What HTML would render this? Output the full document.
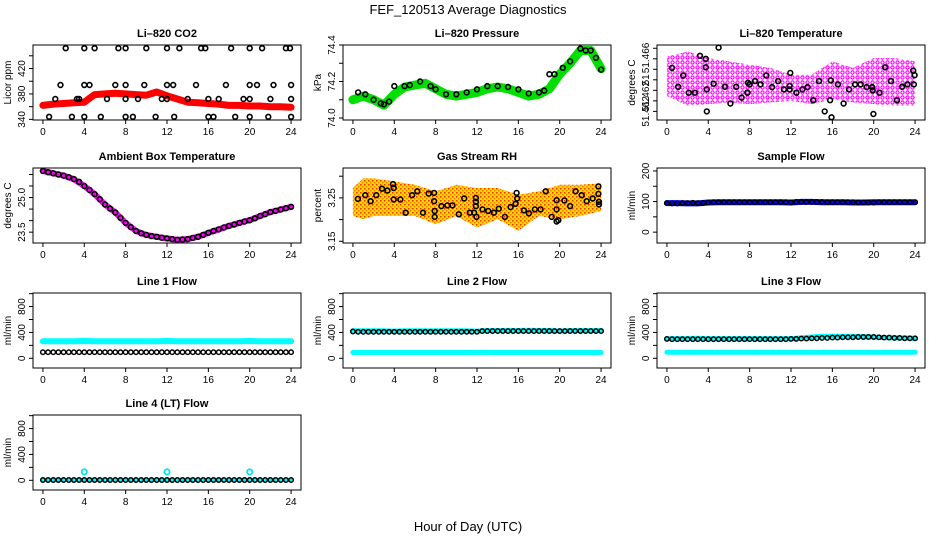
<!DOCTYPE html>
<html><head><meta charset="utf-8">
<style>
html,body{margin:0;padding:0;background:#fff;}
svg{display:block;font-family:"Liberation Sans",sans-serif;}
</style></head>
<body>
<svg id="chart" width="936" height="540" viewBox="0 0 936 540">
<defs>
<pattern id="magPat" width="5" height="5" patternUnits="userSpaceOnUse"><rect width="5" height="5" fill="#ffffff"/><circle cx="2.5" cy="2.5" r="1.6" fill="none" stroke="#ff00ff" stroke-width="1.2"/></pattern>
<pattern id="rhPat" width="4" height="4" patternUnits="userSpaceOnUse"><rect width="4" height="4" fill="#ffd800"/><rect x="0" y="0" width="1.5" height="1.5" fill="#f03000"/><rect x="2" y="2" width="1.5" height="1.5" fill="#f08000"/></pattern>
</defs>
<text x="468" y="14" text-anchor="middle" font-size="13">FEF_120513  Average Diagnostics</text>
<text x="468" y="531" text-anchor="middle" font-size="13">Hour of Day (UTC)</text>
</svg>
<script>
// ---------- data ----------
const xTicks = [0,4,8,12,16,20,24];
// CO2
const co2RedVals = [362,364,365,366,367,379,380,381,380,379,378,383,377,372,367,366,365,364,362,362,361,361,360,360,359];
const co2BlackHours = [2.2,4,5,7.3,8,10,12,13.2,15.3,15.7,18.2,20,21.2,23.5,23.9, 1.7,4,4.5,7,8,9.8,12,12.6,14.8,17.7,20,20.7,22.3,24, 1.2,3.3,3.5,6.2,8,9.2,11.5,12,14,16,17,19.4,20,22,24, 0.6,2.8,4,5.6,8,8.7,10.9,12.7,16,16.5,18.6,20,21.8,24];
const co2BlackVals = [452,452,452,452,452,452,452,452,452,452,452,452,452,452,452, 394,394,394,394,394,394,394,394,394,394,394,394,394,394, 372,372,372,372,372,372,372,372,372,372,372,372,372,372,372, 344,344,344,344,344,344,344,344,344,344,344,344,344,344];
// Pressure
const presGreenVals = [74.10,74.12,74.10,74.07,74.13,74.17,74.18,74.19,74.16,74.13,74.12,74.13,74.14,74.16,74.17,74.16,74.14,74.12,74.13,74.16,74.24,74.30,74.37,74.37,74.27];
const presBlackHours = [0.5,1.2,2,2.7,3,3.5,4,5,5.5,6.5,7.5,8,9,10,11,12,13,14,15,16,17,18,18.5,19,19.5,20.3,21,22,22.5,23,23.5,24];
const presBlackVals = [74.14,74.13,74.10,74.08,74.075,74.09,74.175,74.175,74.18,74.20,74.175,74.157,74.13,74.13,74.14,74.157,74.175,74.175,74.17,74.157,74.135,74.14,74.15,74.24,74.24,74.275,74.31,74.38,74.37,74.37,74.33,74.265];
// Li-820 temperature
const tempCloudHours = [0,2,4,6,8,10,12,14,16,18,20,22,24];
const tempCloudHi = [51.46722,51.46769,51.46706,51.46675,51.46644,51.46613,51.46550,51.46550,51.46675,51.46613,51.46706,51.46706,51.46675];
const tempCloudLo = [51.46347,51.46253,51.46269,51.46284,51.46269,51.46284,51.46300,51.46269,51.46316,51.46284,51.46269,51.46253,51.46253];
const tempBlackHours = [0.49,1.08,1.57,2.12,2.71,3.2,3.76,3.76,3.86,3.86,4.51,5.0,5.62,6.14,6.7,7.22,7.78,7.84,8.0,8.53,9.05,9.61,10.16,10.75,11.31,11.86,11.86,11.93,12.52,13.1,13.6,14.15,14.71,15.26,15.78,15.85,15.92,16.54,17.09,17.61,18.2,18.73,19.31,19.84,19.9,19.97,20.56,21.11,21.67,22.25,22.75,23.27,23.82,23.89,23.95];
const tempBlackVals = [51.46613,51.46434,51.46541,51.46378,51.46378,51.46728,51.46700,51.46619,51.46409,51.46200,51.46463,51.46806,51.46434,51.46275,51.46434,51.46331,51.46378,51.46472,51.46456,51.46488,51.46456,51.46541,51.46431,51.46488,51.46409,51.46441,51.46409,51.46566,51.46378,51.46409,51.46431,51.46306,51.46488,51.46200,51.46306,51.46494,51.46144,51.46456,51.46275,51.46409,51.46456,51.46456,51.46431,51.46431,51.46400,51.46175,51.46378,51.46619,51.46488,51.46306,51.46434,51.46456,51.46588,51.46456,51.46544];
const tempTickVals = [51.462,51.463,51.464,51.465,51.466,51.467,51.468];
const tempLabelVals = [51.462,51.46343,51.465,51.46708];
const tempLabelText = ["51.462","51.462","51","51.466"];
// Ambient box temperature
const ambMagVals = [26.15,26.05,25.95,25.8,25.5,25.15,24.7,24.35,23.9,23.55,23.38,23.3,23.23,23.17,23.2,23.3,23.47,23.62,23.77,23.9,24.02,24.2,24.37,24.48,24.6];
const ambBlackVals = [26.15,26.1,26.05,26.0,25.95,25.88,25.8,25.68,25.5,25.33,25.15,24.93,24.7,24.52,24.35,24.12,23.9,23.72,23.55,23.45,23.38,23.33,23.3,23.26,23.23,23.2,23.17,23.18,23.2,23.25,23.3,23.38,23.47,23.55,23.62,23.7,23.77,23.83,23.9,23.96,24.02,24.1,24.2,24.28,24.37,24.42,24.48,24.54,24.6];
// Gas stream RH
const rhCloudHours = [0,1,2,4,6,8,10,12,14,16,18,20,22,24];
const rhCloudHi = [3.2727,3.2955,3.2955,3.2879,3.2803,3.2652,3.2803,3.2727,3.2727,3.2576,3.2652,3.2803,3.2803,3.2841];
const rhCloudLo = [3.2083,3.2008,3.2083,3.2083,3.2083,3.1894,3.2083,3.1818,3.2008,3.1742,3.2083,3.2008,3.2083,3.2197];
const rhBlackHours = [0.48,1.2,1.71,2.26,2.81,3.33,3.88,3.94,3.94,4.59,5.1,5.72,6.23,6.78,7.33,7.85,7.85,7.91,7.91,8.56,9.14,9.63,10.24,10.76,11.3,11.72,11.89,11.89,11.89,11.95,12.53,13.08,13.63,14.11,14.7,15.25,15.73,15.83,15.89,16.54,17.02,17.6,18.15,18.64,19.22,19.7,19.7,19.7,19.86,20.45,21.0,21.54,22.13,22.61,23.19,23.74,23.74,23.8,23.8];
const rhBlackVals = [3.2477,3.2561,3.2424,3.2561,3.2712,3.2667,3.2818,3.2727,3.2462,3.2462,3.2159,3.2561,3.2652,3.2159,3.2598,3.2614,3.2424,3.2061,3.2197,3.2311,3.2326,3.2326,3.2121,3.2485,3.2159,3.2159,3.25,3.2409,3.2311,3.2061,3.2235,3.2197,3.2159,3.225,3.2061,3.2288,3.2364,3.2614,3.2485,3.2212,3.2144,3.2235,3.2235,3.2652,3.2061,3.2447,3.2235,3.1955,3.1985,3.2439,3.2311,3.2652,3.2561,3.2424,3.2485,3.2765,3.2591,3.2409,3.2348];
// Sample flow
const sampleBlueVals = [95,95,94,94,97,98,98,98,98,98,98,98,97,99,99,98,98,98,97,97,98,98,98,98,98];
const sampleBlackVals = [95,94,94,95,95,96,95,95,97,98,98,98,98,98,98,98,98,98,98,98,98,98,98,98,97,99,99,99,99,99,99,98,98,98,98,98,98,97,97,97,97,98,98,98,98,98,98,98,98];
// Line 1
const l1CyanVals = [265,265,265,265,268,265,265,265,265,265,265,265,268,265,265,265,265,265,265,265,268,265,265,265,265];
const l1BlackVals = [95,95,95,95,95,95,95,95,95,95,95,95,95,95,95,95,95,95,95,95,95,95,95,95,95,95,95,95,95,95,95,95,95,95,95,95,95,95,95,95,95,95,95,95,95,95,95,95,95];
// Line 2
const l2CyanHiVals = [425,425,425,425,420,425,425,425,425,425,425,425,420,430,430,430,430,435,430,430,420,430,430,430,430];
const l2CyanLoVals = [90,90,90,90,90,90,90,90,90,90,90,90,92,92,90,90,90,90,90,90,90,90,90,90,90];
const l2BlackVals = [415,410,410,410,410,410,410,410,410,410,410,410,410,410,410,410,410,410,410,410,410,410,410,410,410,420,420,420,420,420,420,420,420,420,420,420,420,420,420,420,420,420,420,420,420,420,420,420,420];
// Line 3
const l3CyanHiVals = [305,305,305,310,305,305,305,305,305,305,305,305,305,315,330,340,340,340,340,335,330,320,315,315,310];
const l3CyanLoVals = [95,95,95,95,95,95,95,95,95,95,95,95,95,95,95,95,95,95,95,95,95,95,95,95,95];
const l3BlackVals = [300,295,295,295,295,295,295,295,295,295,295,295,295,295,295,295,295,295,295,295,295,295,295,295,300,300,305,305,310,310,315,315,320,320,325,325,325,330,330,330,330,325,320,320,315,315,310,310,310];
// Line 4
const l4CyanVals = [5,5,5,5,5,5,5,5,5,5,5,5,5,5,5,5,5,5,5,5,5,5,5,5,5];
const l4SpikeHours = [4,12,20];
const l4SpikeVals = [130,130,130];
const l4BlackVals = [5,5,5,5,5,5,5,5,5,5,5,5,5,5,5,5,5,5,5,5,5,5,5,5,5,5,5,5,5,5,5,5,5,5,5,5,5,5,5,5,5,5,5,5,5,5,5,5,5];

const hoursHourly = []; for (let i=0;i<=24;i++) hoursHourly.push(i);
const hoursHalf = []; for (let i=0;i<=48;i++) hoursHalf.push(i/2);

// ---------- drawing ----------
const NS = "http://www.w3.org/2000/svg";
const svg = document.getElementById('chart');
const colL = [33,343,657], rowT = [45,168,293,415], PW = 268, PH = 75;

function mk(tag, attrs, parent){
  const e = document.createElementNS(NS, tag);
  for (const k in attrs) e.setAttribute(k, attrs[k]);
  parent.appendChild(e);
  return e;
}

function panel(cfg){
  const L = colL[cfg.col], T = rowT[cfg.row];
  const g = mk('g', {}, svg);
  
  
  const xs = h => L + (h + 0.96) / 25.92 * PW;
  const ys = v => T + (cfg.ymax - v) / (cfg.ymax - cfg.ymin) * PH;
  const box = mk('rect', {x:L, y:T, width:PW, height:PH, fill:'none', stroke:'#000', 'stroke-width':1}, g);
  
  
  const t = mk('text', {x:L+PW/2, y:T-8, 'text-anchor':'middle', 'font-size':11, 'font-weight':'bold'}, g);
  t.textContent = cfg.title;
  
  
  const xa = mk('g', {}, g);
  
  
  xTicks.forEach(h => {
    mk('line', {x1:xs(h), x2:xs(h), y1:T+PH, y2:T+PH+4, stroke:'#000'}, xa);
    const lb = mk('text', {x:xs(h), y:T+PH+15, 'text-anchor':'middle', 'font-size':10}, xa);
    lb.textContent = h;
    
    
  });
  const ya = mk('g', {}, g);
  
  
  cfg.yticks.forEach(v => {
    mk('line', {x1:L-4, x2:L, y1:ys(v), y2:ys(v), stroke:'#000'}, ya);
  });
  cfg.ylabVals.forEach((v,i) => {
    const yy = ys(v);
    const lb = mk('text', {x:L-8, y:yy, transform:`rotate(-90 ${L-8} ${yy})`, 'text-anchor':'middle', 'font-size':10}, ya);
    lb.textContent = cfg.ylabText[i];
    
    
  });
  const yt = mk('text', {x:L-22, y:T+PH/2, transform:`rotate(-90 ${L-22} ${T+PH/2})`, 'text-anchor':'middle', 'font-size':10}, g);
  yt.textContent = cfg.ylab;
  
  
  const plot = mk('g', {}, g);
  
  
  return {xs, ys, g:plot};
}

function band(P, hours, vals, color, width, name){
  const pts = hours.map((h,i) => P.xs(h).toFixed(1) + ',' + P.ys(vals[i]).toFixed(1)).join(' ');
  const pl = mk('polyline', {points:pts, fill:'none', stroke:color, 'stroke-width':width, 'stroke-linejoin':'round', 'stroke-linecap':'round'}, P.g);
  
  
}
function cloud(P, hours, lo, hi, fill, name){
  const up = hours.map((h,i) => P.xs(h).toFixed(1) + ',' + P.ys(hi[i]).toFixed(1));
  const dn = hours.map((h,i) => P.xs(h).toFixed(1) + ',' + P.ys(lo[i]).toFixed(1)).reverse();
  const pg = mk('polygon', {points:up.concat(dn).join(' '), fill:fill, stroke:'none'}, P.g);
  
  
}
function circles(P, hours, vals, color, name, r, sw){
  const gg = mk('g', {}, P.g);
  
  
  hours.forEach((h,i) => {
    const c = mk('circle', {cx:P.xs(h).toFixed(1), cy:P.ys(vals[i]).toFixed(1), r:r||2.4, fill:'none', stroke:color, 'stroke-width':sw||1.6}, gg);
    
    
  });
}

let P = panel({name:'co2', col:0, row:0, title:'Li\u2013820 CO2', ylab:'Licor ppm', ymin:339, ymax:457,
  yticks:[340,360,380,400,420,440], ylabVals:[340,380,420], ylabText:['340','380','420']});
band(P, hoursHourly, co2RedVals, '#ff0000', 7, 'co2-red-series');
circles(P, co2BlackHours, co2BlackVals, '#000', 'co2-black-series');

P = panel({name:'pressure', col:1, row:0, title:'Li\u2013820 Pressure', ylab:'kPa', ymin:73.989, ymax:74.40,
  yticks:[74.0,74.1,74.2,74.3,74.4], ylabVals:[74.0,74.2,74.4], ylabText:['74.0','74.2','74.4']});
band(P, hoursHourly, presGreenVals, '#00e000', 9, 'pressure-green-series');
circles(P, presBlackHours, presBlackVals, '#000', 'pressure-black-series');

P = panel({name:'li820-temp', col:2, row:0, title:'Li\u2013820 Temperature', ylab:'degrees C', ymin:51.46118, ymax:51.46831,
  yticks:tempTickVals, ylabVals:tempLabelVals, ylabText:tempLabelText});
cloud(P, tempCloudHours, tempCloudLo, tempCloudHi, 'url(#magPat)', 'li820-temp-magenta-cloud');
circles(P, tempBlackHours, tempBlackVals, '#000', 'li820-temp-black-series');

P = panel({name:'ambient', col:0, row:1, title:'Ambient Box Temperature', ylab:'degrees C', ymin:23.03, ymax:26.28,
  yticks:[23.5,24.0,24.5,25.0,25.5,26.0], ylabVals:[23.5,25.0], ylabText:['23.5','25.0']});
band(P, hoursHourly, ambMagVals, '#ff00ff', 6, 'ambient-magenta-series');
circles(P, hoursHalf, ambBlackVals, '#000', 'ambient-black-series');

P = panel({name:'rh', col:1, row:1, title:'Gas Stream RH', ylab:'percent', ymin:3.146, ymax:3.3189,
  yticks:[3.15,3.20,3.25,3.30], ylabVals:[3.15,3.25], ylabText:['3.15','3.25']});
cloud(P, rhCloudHours, rhCloudLo, rhCloudHi, 'url(#rhPat)', 'rh-orange-cloud');
circles(P, rhBlackHours, rhBlackVals, '#000', 'rh-black-series');

P = panel({name:'sample-flow', col:2, row:1, title:'Sample Flow', ylab:'ml/min', ymin:-35.5, ymax:209.7,
  yticks:[0,50,100,150,200], ylabVals:[0,100,200], ylabText:['0','100','200']});
band(P, hoursHourly, sampleBlueVals, '#0000ff', 6, 'sample-flow-blue-series');
circles(P, hoursHalf, sampleBlackVals, '#000', 'sample-flow-black-series', 2.2, 1.5);

const flowTicks = [0,200,400,600,800,1000];
P = panel({name:'line1-flow', col:0, row:2, title:'Line 1 Flow', ylab:'ml/min', ymin:-150, ymax:1010,
  yticks:flowTicks, ylabVals:[0,400,800], ylabText:['0','400','800']});
band(P, hoursHourly, l1CyanVals, '#00ffff', 6, 'line1-cyan-series');
circles(P, hoursHalf, l1BlackVals, '#000', 'line1-black-series', 2.2, 1.5);

P = panel({name:'line2-flow', col:1, row:2, title:'Line 2 Flow', ylab:'ml/min', ymin:-150, ymax:1010,
  yticks:flowTicks, ylabVals:[0,400,800], ylabText:['0','400','800']});
band(P, hoursHourly, l2CyanHiVals, '#00ffff', 5, 'line2-cyan-high-series');
band(P, hoursHourly, l2CyanLoVals, '#00ffff', 5, 'line2-cyan-low-series');
circles(P, hoursHalf, l2BlackVals, '#000', 'line2-black-series', 2.2, 1.5);

P = panel({name:'line3-flow', col:2, row:2, title:'Line 3 Flow', ylab:'ml/min', ymin:-150, ymax:1010,
  yticks:flowTicks, ylabVals:[0,400,800], ylabText:['0','400','800']});
band(P, hoursHourly, l3CyanHiVals, '#00ffff', 5, 'line3-cyan-high-series');
band(P, hoursHourly, l3CyanLoVals, '#00ffff', 5, 'line3-cyan-low-series');
circles(P, hoursHalf, l3BlackVals, '#000', 'line3-black-series', 2.2, 1.5);

P = panel({name:'line4-flow', col:0, row:3, title:'Line 4 (LT) Flow', ylab:'ml/min', ymin:-150, ymax:1010,
  yticks:flowTicks, ylabVals:[0,400,800], ylabText:['0','400','800']});
band(P, hoursHourly, l4CyanVals, '#00ffff', 4, 'line4-cyan-series');
circles(P, l4SpikeHours, l4SpikeVals, '#00e8e8', 'line4-cyan-spikes', 2.6, 1.8);
circles(P, hoursHalf, l4BlackVals, '#000', 'line4-black-series', 2.2, 1.5);
</script>
</body></html>
